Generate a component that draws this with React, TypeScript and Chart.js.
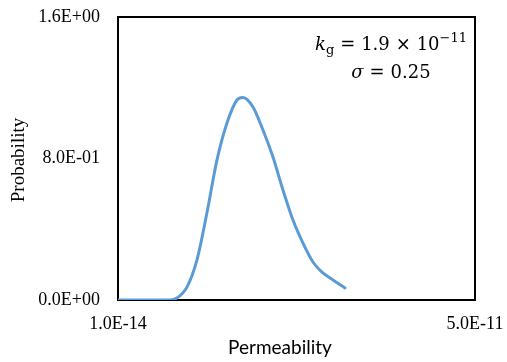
import React, { useEffect, useRef } from "react";
import { Chart, registerables } from "chart.js";

Chart.register(...registerables);

// Data
const permeability = [
  1.0e-14, 7.28e-12, 8.26e-12, 9.66e-12, 1.106e-11, 1.246e-11, 1.387e-11,
  1.527e-11, 1.667e-11, 1.751e-11, 1.891e-11, 2.031e-11, 2.171e-11, 2.311e-11,
  2.451e-11, 2.591e-11, 2.731e-11, 2.871e-11, 3.011e-11, 3.179e-11,
];
const probability = [
  0, 0, 0.011, 0.073, 0.226, 0.492, 0.792, 1.001, 1.131, 1.145, 1.091, 0.961,
  0.808, 0.622, 0.452, 0.322, 0.215, 0.153, 0.113, 0.068,
];
const xTicks = [1.0e-14, 5.0e-11];
const yTicks = [0, 0.8, 1.6];
const xTitle = "Permeability";
const yTitle = "Probability";

function sci(v: number): string {
  if (v === 0) return "0.0E+00";
  let e = Math.floor(Math.log10(Math.abs(v)) + 1e-9);
  let m = v / Math.pow(10, e);
  let ms = m.toFixed(1);
  if (ms === "10.0") {
    ms = "1.0";
    e += 1;
  }
  const sign = e < 0 ? "-" : "+";
  return ms + "E" + sign + String(Math.abs(e)).padStart(2, "0");
}

const decor = {
  id: "decor",
  beforeDatasetsDraw(chart: any) {
    const { ctx, chartArea: a } = chart;
    ctx.save();
    ctx.strokeStyle = "#000";
    ctx.lineWidth = 2;
    ctx.strokeRect(a.left, a.top, a.right - a.left, a.bottom - a.top);
    ctx.restore();
  },
  afterDraw(chart: any) {
    const { ctx } = chart;
    ctx.save();
    ctx.fillStyle = "#000";
    // Axis titles
    ctx.font = '19px "Liberation Serif"';
    ctx.textAlign = "center";
    ctx.textBaseline = "middle";
    ctx.save();
    ctx.translate(19, 160);
    ctx.rotate(-Math.PI / 2);
    ctx.fillText(yTitle, 0, 0);
    ctx.restore();
    ctx.font = '19px "Lato"';
    ctx.fillText(xTitle, 280, 348);

    // Annotation
    ctx.textAlign = "left";
    ctx.textBaseline = "alphabetic";
    const big = '18px "DejaVu Serif"';
    const bigIt = 'italic 18px "DejaVu Serif"';
    const small = '13px "DejaVu Serif"';
    const w = (t: string, f: string) => {
      ctx.font = f;
      return ctx.measureText(t).width;
    };
    const row1 = [
      { t: "k", f: bigIt, dy: 0, gap: 0 },
      { t: "g", f: small, dy: 4, gap: 0 },
      { t: "=", f: big, dy: 0, gap: 1 },
      { t: "1.9", f: big, dy: 0, gap: 1 },
      { t: "\u00d7", f: big, dy: 0, gap: 1 },
      { t: "10", f: big, dy: 0, gap: 1 },
      { t: "\u221211", f: small, dy: -8, gap: 0 },
    ];
    const target = 152;
    let sum = 0;
    let ngap = 0;
    row1.forEach((p) => {
      sum += w(p.t, p.f);
      ngap += p.gap;
    });
    const gap = Math.max(3, (target - sum) / ngap);
    const cx = 391;
    let x = cx - (sum + gap * ngap) / 2;
    row1.forEach((p) => {
      x += p.gap * gap;
      ctx.font = p.f;
      ctx.fillText(p.t, x, 50 + p.dy);
      x += w(p.t, p.f);
    });
    const row2 = [
      { t: "\u03c3", f: bigIt, gap: 0 },
      { t: "=", f: big, gap: 1 },
      { t: "0.25", f: big, gap: 1 },
    ];
    let sum2 = 0;
    row2.forEach((p) => (sum2 += w(p.t, p.f)));
    let x2 = cx - (sum2 + gap * 2) / 2;
    row2.forEach((p) => {
      x2 += p.gap * gap;
      ctx.font = p.f;
      ctx.fillText(p.t, x2, 78);
      x2 += w(p.t, p.f);
    });
    ctx.restore();
  },
};

export default function App() {
  const ref = useRef<HTMLCanvasElement | null>(null);
  useEffect(() => {
    if (!ref.current) return;
    const points = permeability.map((x, i) => ({ x, y: probability[i] }));
    const zeroPad = (s: any) => {
      s.paddingTop = 0;
      s.paddingBottom = 0;
      s.paddingLeft = 0;
      s.paddingRight = 0;
    };
    const chart = new Chart(ref.current, {
      type: "line",
      data: {
        datasets: [
          {
            data: points,
            borderColor: "#5B9BD5",
            borderWidth: 3,
            pointRadius: 0,
            fill: false,
            cubicInterpolationMode: "monotone",
            borderCapStyle: "round",
            borderJoinStyle: "round",
          },
        ],
      },
      options: {
        responsive: false,
        animation: false,
        devicePixelRatio: 1,
        layout: { padding: { top: 17, right: 32, left: 0, bottom: 0 } },
        plugins: {
          legend: { display: false },
          tooltip: { enabled: false },
        },
        scales: {
          x: {
            type: "linear",
            min: xTicks[0],
            max: xTicks[xTicks.length - 1],
            grid: { display: false, drawTicks: false },
            border: { display: false },
            afterBuildTicks: (s: any) => {
              s.ticks = xTicks.map((v) => ({ value: v }));
            },
            afterFit: (s: any) => {
              s.height = 62;
              zeroPad(s);
            },
            ticks: {
              autoSkip: false,
              maxRotation: 0,
              minRotation: 0,
              padding: 13,
              color: "#000",
              font: { family: '"Liberation Serif"', size: 18 },
              callback: (v: any) => sci(Number(v)),
            },
          },
          y: {
            type: "linear",
            min: yTicks[0],
            max: yTicks[yTicks.length - 1],
            grid: { display: false, drawTicks: false },
            border: { display: false },
            afterBuildTicks: (s: any) => {
              s.ticks = yTicks.map((v) => ({ value: v }));
            },
            afterFit: (s: any) => {
              s.width = 118;
              zeroPad(s);
            },
            ticks: {
              padding: 18,
              color: "#000",
              font: { family: '"Liberation Serif"', size: 18 },
              callback: (v: any) => sci(Number(v)),
            },
          },
        },
      },
      plugins: [decor],
    } as any);
    return () => chart.destroy();
  }, []);
  return (
    <div style={{ position: "fixed", left: 0, top: 0, width: 507, height: 362, background: "#fff" }}>
      <canvas ref={ref} width={507} height={362} style={{ display: "block" }} />
    </div>
  );
}
